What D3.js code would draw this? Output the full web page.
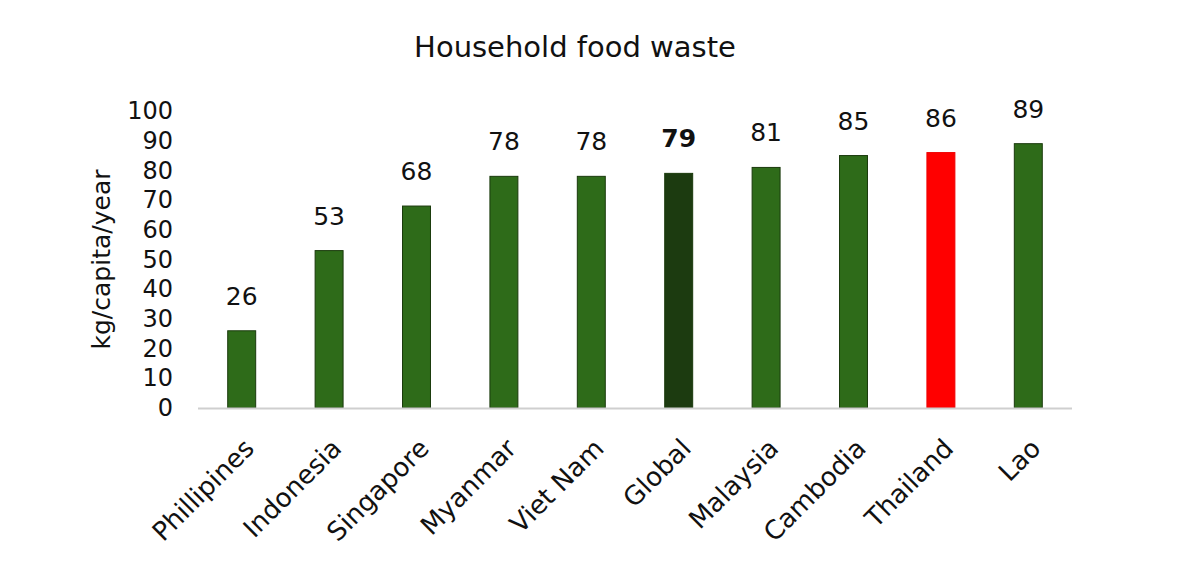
<!DOCTYPE html>
<html>
<head>
<meta charset="utf-8">
<script src="https://cdn.jsdelivr.net/npm/d3@7"></script>
<style>
  body { margin: 0; background: #fff; }
  text { font-family: "DejaVu Sans", sans-serif; fill: #111; }
</style>
</head>
<body>
<div id="chart"></div>
<script>
const countries = ["Phillipines", "Indonesia", "Singapore", "Myanmar", "Viet Nam", "Global", "Malaysia", "Cambodia", "Thailand", "Lao"];
const waste = [26, 53, 68, 78, 78, 79, 81, 85, 86, 89];
const yTicks = [0, 10, 20, 30, 40, 50, 60, 70, 80, 90, 100];

const width = 1200, height = 576;
const margin = {top: 111, right: 128, bottom: 168, left: 198};
const fontFam = "'DejaVu Sans', sans-serif";

const svg = d3.select("#chart").append("svg")
    .attr("width", width)
    .attr("height", height);

const x = d3.scaleBand()
    .domain(countries)
    .range([margin.left, width - margin.right])
    .paddingInner(0.68)
    .paddingOuter(0.34);

const y = d3.scaleLinear()
    .domain([0, 100])
    .range([height - margin.bottom, margin.top]);

function barColor(name){
    if(name === "Global") return "#1c3b10";
    if(name === "Thailand") return "#ff0000";
    return "#2e6b19";
}
function barStroke(name){
    if(name === "Thailand") return "#ee0000";
    return "#1a3a0c";
}

// title
svg.append("text")
    .attr("x", 575)
    .attr("y", 57)
    .attr("text-anchor", "middle")
    .style("font-size", "29px")
    .text("Household food waste");

// y axis (labels only)
const yAxis = svg.append("g")
    .attr("transform", "translate(" + (margin.left - 13) + ",0)")
    .call(d3.axisLeft(y).tickValues(yTicks).tickSize(0).tickPadding(12));
yAxis.select(".domain").remove();
yAxis.selectAll("text")
    .style("font-size", "24px")
    .style("font-family", fontFam)
    .attr("fill", "#111");

svg.append("text")
    .attr("transform", "translate(110," + y(50) + ") rotate(-90)")
    .attr("text-anchor", "middle")
    .style("font-size", "25px")
    .text("kg/capita/year");

// bars
svg.append("g").selectAll("rect")
    .data(countries)
    .join("rect")
    .attr("x", d => x(d))
    .attr("width", x.bandwidth())
    .attr("y", (d, i) => y(waste[i]))
    .attr("height", (d, i) => y(0) - y(waste[i]))
    .attr("fill", d => barColor(d))
    .attr("stroke", d => barStroke(d))
    .attr("stroke-width", 1);

// baseline
svg.append("line")
    .attr("x1", margin.left)
    .attr("x2", width - margin.right)
    .attr("y1", y(0) + 0.5)
    .attr("y2", y(0) + 0.5)
    .attr("stroke", "#cfcfcf")
    .attr("stroke-width", 2);

// value labels
svg.append("g").selectAll("text")
    .data(countries)
    .join("text")
    .attr("x", d => x(d) + x.bandwidth() / 2)
    .attr("y", (d, i) => y(waste[i]) - 26)
    .attr("text-anchor", "middle")
    .style("font-size", "25px")
    .style("font-weight", d => d === "Global" ? "bold" : "normal")
    .text((d, i) => waste[i]);

// x axis labels
const xAxis = svg.append("g")
    .attr("transform", "translate(0," + y(0) + ")")
    .call(d3.axisBottom(x).tickSize(0).tickPadding(0));
xAxis.select(".domain").remove();
xAxis.selectAll("text")
    .style("font-size", "26px")
    .style("font-family", fontFam)
    .attr("fill", "#111")
    .attr("text-anchor", "end")
    .attr("dy", 0)
    .attr("transform", "translate(14,42) rotate(-45)");
</script>
</body>
</html>
